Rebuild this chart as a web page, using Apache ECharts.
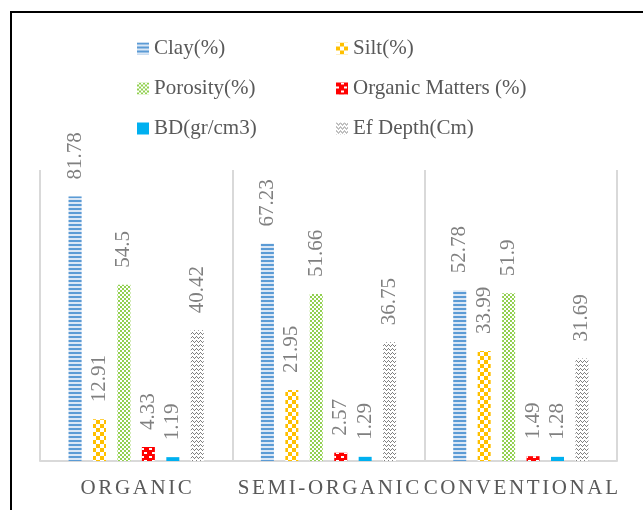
<!DOCTYPE html>
<html>
<head>
<meta charset="utf-8">
<script src="https://cdn.jsdelivr.net/npm/echarts@6/dist/echarts.min.js"></script>
<style>
  html, body { margin: 0; padding: 0; background: #fff; }
  #chart { width: 643px; height: 510px; }
</style>
</head>
<body>
<div id="chart"></div>
<script>
// Soil properties by farming system
const categories = ['ORGANIC', 'SEMI-ORGANIC', 'CONVENTIONAL'];
const clay = [81.78, 67.23, 52.78];
const silt = [12.91, 21.95, 33.99];
const porosity = [54.5, 51.66, 51.9];
const organicMatters = [4.33, 2.57, 1.49];
const bulkDensity = [1.19, 1.29, 1.28];
const efDepth = [40.42, 36.75, 31.69];

const FONT = '"Liberation Serif", "Times New Roman", serif';

// letter-spaced capitals for the category axis: one rich token per letter
const spaced = s => s.split('').map(c => '{s|' + c + '}').join('');

const valueLabel = {
  show: true,
  position: 'top',
  rotate: 90,
  align: 'left',
  verticalAlign: 'middle',
  distance: 17,
  color: '#808080',
  fontFamily: FONT,
  fontSize: 21
};

function bar(name, data, color, decal) {
  const itemStyle = { color: color };
  if (decal) itemStyle.decal = decal;
  return {
    name: name,
    type: 'bar',
    data: data,
    barWidth: 13,
    barGap: '88%',
    itemStyle: itemStyle,
    label: valueLabel,
    emphasis: { disabled: true }
  };
}

const series = [
  bar('Clay(%)', clay, '#dbe7f5', {
    symbol: 'rect', symbolSize: 1, color: '#5b9bd5',
    dashArrayX: [1, 0], dashArrayY: [2, 2]
  }),
  bar('Silt(%)', silt, '#ffffff', {
    symbol: 'rect', symbolSize: 1, color: '#ffc000',
    dashArrayX: [[4, 4], [0, 4, 4, 0]], dashArrayY: [4, 0]
  }),
  bar('Porosity(%)', porosity, '#ffffff', {
    symbol: 'rect', symbolSize: 1, color: '#92d050',
    dashArrayX: [[2, 2], [0, 2, 2, 0]], dashArrayY: [2, 0]
  }),
  bar('Organic Matters (%)', organicMatters, '#ff0000', {
    symbol: 'rect', symbolSize: 1, color: '#ffffff',
    dashArrayX: [[3, 5], [0, 5, 3, 0]], dashArrayY: [2, 2]
  }),
  bar('BD(gr/cm3)', bulkDensity, '#00b0f0'),
  bar('Ef Depth(Cm)', efDepth, '#ffffff', {
    symbol: 'rect', symbolSize: 1, color: '#7f7f7f',
    dashArrayX: [[1, 3], [0, 1, 1, 2], [0, 2, 1, 1], [0, 1, 1, 2]],
    dashArrayY: [1, 0],
    rotation: Math.PI / 2
  })
];

const legendText = { color: '#595959', fontFamily: FONT, fontSize: 21, lineHeight: 20 };

const chart = echarts.init(document.getElementById('chart'), null, { renderer: 'canvas' });
chart.setOption({
  animation: false,
  backgroundColor: '#ffffff',
  legend: [
    {
      data: ['Clay(%)', 'Porosity(%)', 'BD(gr/cm3)'],
      orient: 'vertical', left: 137, top: 38, padding: 0,
      itemWidth: 12, itemHeight: 12, itemGap: 19,
      icon: 'rect',
      textStyle: legendText, selectedMode: false
    },
    {
      data: ['Silt(%)', 'Organic Matters (%)', 'Ef Depth(Cm)'],
      orient: 'vertical', left: 336, top: 38, padding: 0,
      itemWidth: 12, itemHeight: 12, itemGap: 19,
      icon: 'rect',
      textStyle: legendText, selectedMode: false
    }
  ],
  grid: { left: 40, right: 26, top: 170, bottom: 49, containLabel: false },
  xAxis: {
    type: 'category',
    data: categories,
    axisLine: { show: true, lineStyle: { color: '#d9d9d9', width: 2 } },
    axisTick: { show: false },
    splitLine: { show: true, lineStyle: { color: '#d9d9d9', width: 2 } },
    axisLabel: {
      interval: 0,
      margin: 17,
      color: '#595959',
      fontFamily: FONT,
      fontSize: 21,
      formatter: v => spaced(v),
      rich: {
        s: { color: '#595959', fontFamily: FONT, fontSize: 21, padding: [0, 1.3, 0, 1.3] }
      }
    }
  },
  yAxis: {
    type: 'value',
    min: 0,
    max: 90,
    show: false,
    splitLine: { show: false }
  },
  series: series,
  graphic: [
    { type: 'line', shape: { x1: 11, y1: 11, x2: 11, y2: 510 }, style: { stroke: '#000', lineWidth: 2 }, silent: true },
    { type: 'line', shape: { x1: 10, y1: 12, x2: 643, y2: 12 }, style: { stroke: '#000', lineWidth: 2 }, silent: true }
  ]
});
</script>
</body>
</html>
